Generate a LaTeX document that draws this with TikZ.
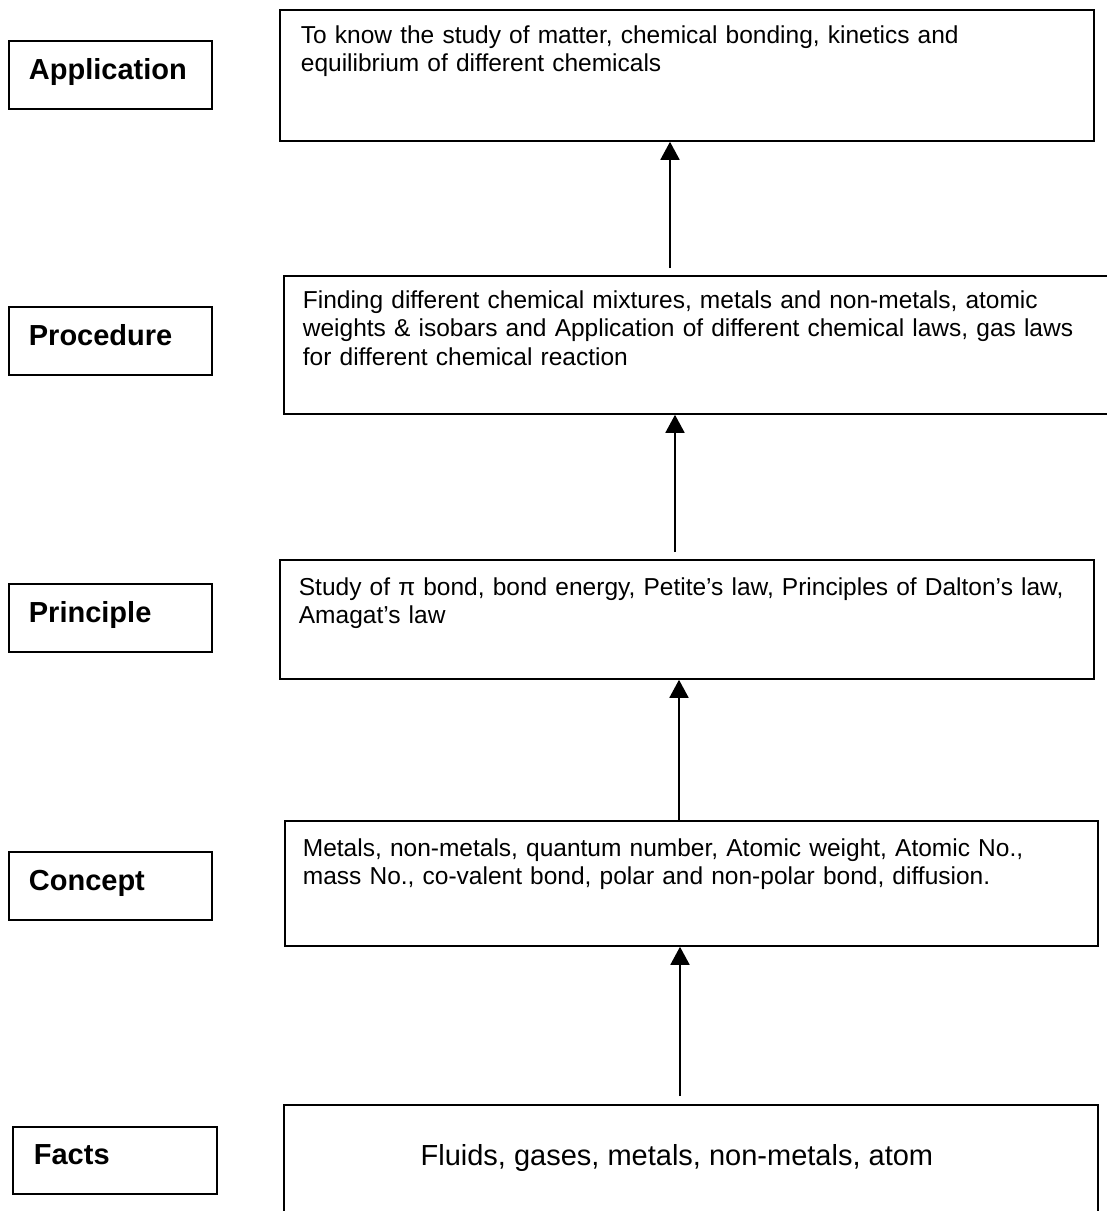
\documentclass[tikz,border=0pt]{standalone}
\usepackage{fontspec}
\setmainfont{Liberation Sans}
\usetikzlibrary{arrows.meta}

\begin{document}
\begin{tikzpicture}[x=1pt,y=-1pt,line width=1.8pt,>={Triangle[length=18pt,width=19pt]}]
    \tikzstyle{tag}=[draw, anchor=north west, minimum width=203pt, minimum height=68pt, text width=163pt, text depth=11pt, inner xsep=20pt, align=left, font=\fontsize{29}{34}\selectfont\bfseries]
    \tikzstyle{box}=[draw, anchor=north west]
    \tikzstyle{txt}=[anchor=base west, inner sep=0pt, text width=800pt, align=left, font=\fontsize{24.5}{28.5}\selectfont]

    \useasboundingbox (0,0) rectangle (1107,1211);
    \clip (0,0) rectangle (1107,1211);

    % left column
    \node[tag] (AppL) at (8,40) {Application};
    \node[tag] (ProcL) at (8,306) {Procedure};
    \node[tag] (PrincL) at (8,583) {Principle};
    \node[tag] (ConcL) at (8,851) {Concept};
    \node[tag, minimum height=67pt, inner xsep=21pt, text width=162pt] (FactL) at (12,1126) {Facts};

    % right column
    \node[box, minimum width=814pt, minimum height=131pt] (AppC) at (279,9) {};
    \node[box, minimum width=842pt, minimum height=138pt] (ProcC) at (283,275) {};
    \node[box, minimum width=814pt, minimum height=119pt] (PrincC) at (279,559) {};
    \node[box, minimum width=813pt, minimum height=125pt] (ConcC) at (284,820) {};
    \node[box, minimum width=814pt, minimum height=130pt] (FactC) at (283,1104) {};

    \node[txt] (AppT) at ([shift={(21,34)}]AppC.north west) {To know the study of matter, chemical bonding, kinetics and\\equilibrium of different chemicals};
    \node[txt] (ProcT) at ([shift={(19,33)}]ProcC.north west) {Finding different chemical mixtures, metals and non-metals, atomic\\weights \& isobars and Application of different chemical laws, gas laws\\for different chemical reaction};
    \node[txt] (PrincT) at ([shift={(19,36)}]PrincC.north west) {Study of π bond, bond energy, Petite’s law, Principles of Dalton’s law,\\Amagat’s law};
    \node[txt] (ConcT) at ([shift={(18,36)}]ConcC.north west) {Metals, non-metals, quantum number, Atomic weight, Atomic No.,\\mass No., co-valent bond, polar and non-polar bond, diffusion.};
    \node[anchor=base, inner sep=0pt, font=\fontsize{29}{34}\selectfont] (FactT) at ([shift={(-14,61)}]FactC.north) {Fluids, gases, metals, non-metals, atom};

    % arrows
    \draw[->, shorten <=7pt] (ProcC.north -| 670,0) -- (AppC.south -| 670,0);
    \draw[->, shorten <=7pt] (PrincC.north -| 675,0) -- (ProcC.south -| 675,0);
    \draw[->] (ConcC.north -| 679,0) -- (PrincC.south -| 679,0);
    \draw[->, shorten <=8pt] (FactC.north -| 680,0) -- (ConcC.south -| 680,0);
\end{tikzpicture}
\end{document}
